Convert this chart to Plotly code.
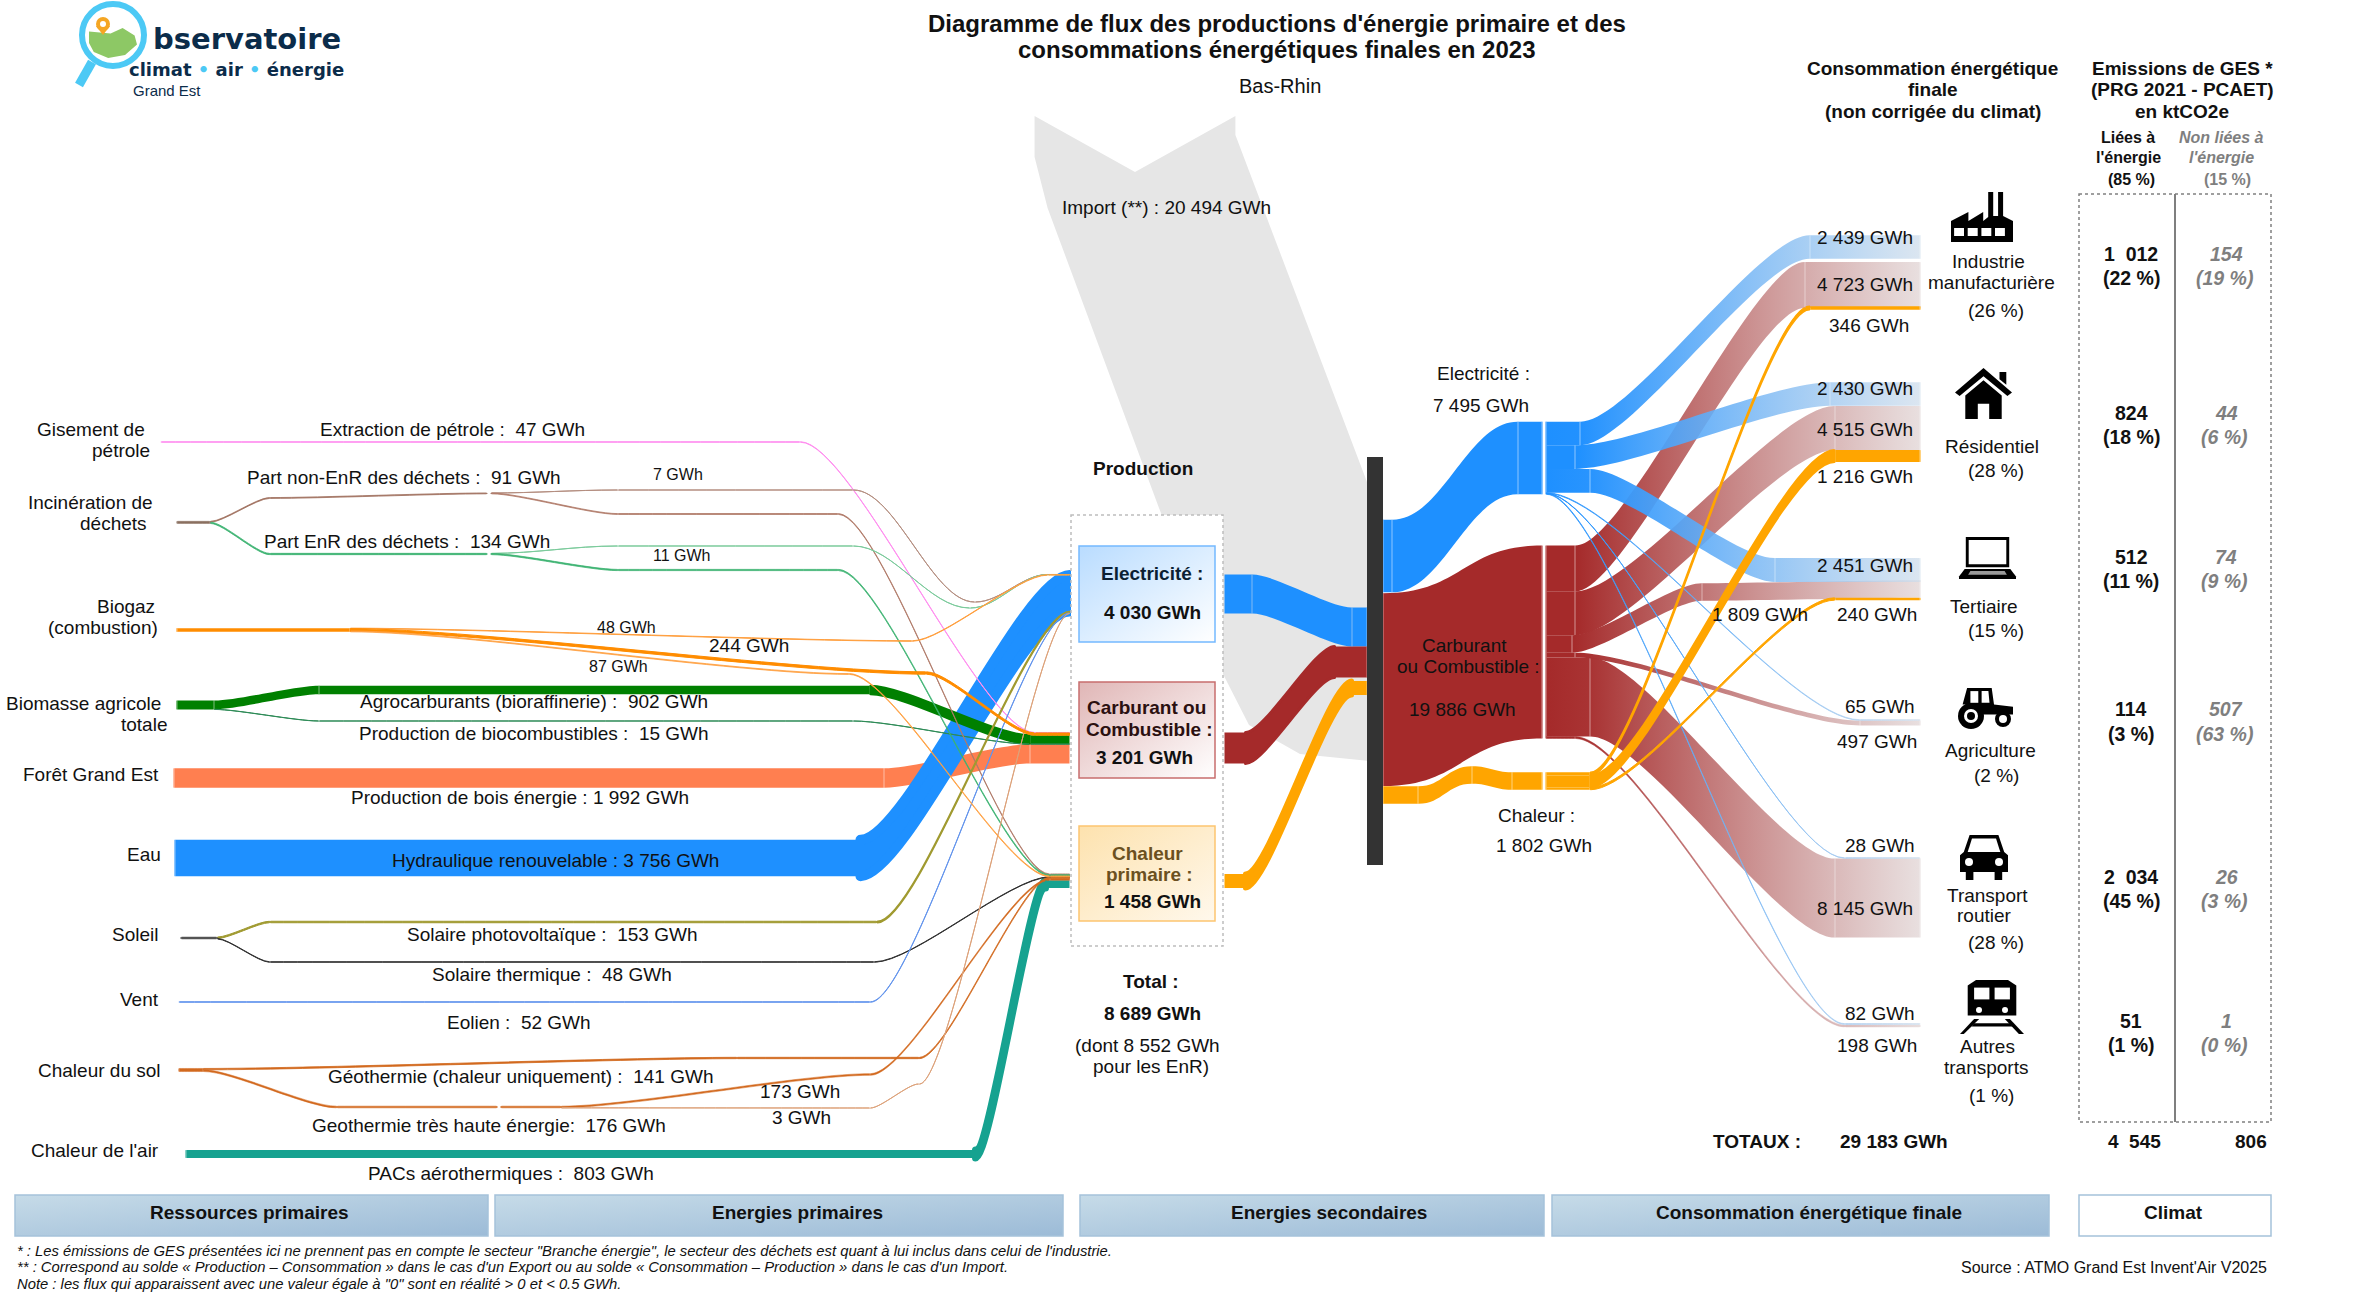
import json
import plotly.graph_objects as go

# ---------------- data (GWh) ----------------
PETROLE = 47
DECHETS_NON_ENR = 91
DECHETS_NON_ENR_SPLIT = [7, 84]      # electricite, chaleur
DECHETS_ENR = 134
DECHETS_ENR_SPLIT = [11, 123]
BIOGAZ_SPLIT = [48, 244, 87]         # elec, carburant, chaleur
AGROCARB = 902
BIOCOMB = 15
BOIS = 1992
HYDRO = 3756
PV = 153
SOL_TH = 48
EOLIEN = 52
GEOTH = 141
GEOTH_THE = 176
GEOTH_THE_SPLIT = [173, 3]
PAC = 803
PROD = [4030, 3201, 1458]
PROD_TOTAL = 8689
PROD_ENR = 8552
IMPORT = 20494
SEC = [7495, 19886, 1802]
ELEC_USES = [2439, 2430, 2451, 65, 28, 82]
CARB_USES = [4723, 4515, 1809, 497, 8145, 198]
CHAL_USES = [346, 1216, 240]
FINAL_TOTAL = 29183
SECTORS = ["Industrie", "Résidentiel", "Tertiaire", "Agriculture", "Transport routier", "Autres transports"]
SECTOR_PCT = [26, 28, 15, 2, 28, 1]
GES_ENERGIE = ["1  012", "824", "512", "114", "2  034", "51"]
GES_ENERGIE_PCT = [22, 18, 11, 3, 45, 1]
GES_AUTRE = [154, 44, 74, 507, 26, 1]
GES_AUTRE_PCT = [19, 6, 9, 63, 3, 0]
GES_TOTALS = ["4  545", "806"]

def gwh(v):
    return f"{v:,}".replace(",", " ") + " GWh"

# ---------------- scale / layout constants ----------------
W, H = 2370, 1299
S = 2370 / 1567
K = 0.0097                      # px per GWh
SRC_SUM = sum([PETROLE, DECHETS_NON_ENR, DECHETS_ENR]) + sum(BIOGAZ_SPLIT) + AGROCARB + BIOCOMB + BOIS + HYDRO + PV + SOL_TH + EOLIEN + GEOTH + GEOTH_THE + PAC + sum(SEC)
SK_H = SRC_SUM * K
SK_TOP = 481.3
FONT = "Liberation Sans"

BLUE, RED, ORANGE = "#1E90FF", "#A52A2A", "#FFA500"

FADES = {"blue": ((30, 144, 255, 1), (205, 220, 235, .72)),
         "red": ((165, 42, 42, 1), (226, 214, 214, .78))}

def fade_col(name, x):
    t = max(0, min(1, (x - 1575) / (1920 - 1575)))
    a, b = FADES[name]
    c = [a[i] + (b[i] - a[i]) * t for i in range(4)]
    return f"rgba({c[0]:.0f},{c[1]:.0f},{c[2]:.0f},{c[3]:.3f})"

# ---------------- sankey graph builder ----------------
nx, ny, ncol, ls, lt, lv, lc, lw = [], [], [], [], [], [], [], []
grads = {}
curv = {}
CURV_DEFAULT = 0.22

def node(x, y, col="rgba(0,0,0,0)"):
    nx.append(x / W)
    ny.append((y - SK_TOP) / SK_H)
    ncol.append(col)
    return len(nx) - 1

def link(a, b, v, col, width=None, fade=None):
    ls.append(a); lt.append(b); lv.append(v)
    lc.append(col)
    if width is None:
        width = 1.0 if v < 60 else (.8 if v < 150 else (.5 if v < 350 else 0))
    lw.append(width)
    if fade:
        grads[len(ls) - 1] = [fade_col(fade, nx[a] * W), fade_col(fade, nx[b] * W)]

def route(start, pts, v, col, end=None, width=None, fade=None, widths=None, c=None):
    """Chain links through way-nodes; start/end are node ids or (x, y)."""
    cur = start if isinstance(start, int) else node(*start, col if not fade else fade_col(fade, start[0]))
    for i, p in enumerate(pts):
        nxt = node(*p, col if not fade else fade_col(fade, p[0]))
        link(cur, nxt, v, col, (widths or {}).get(i, width), fade)
        if c is not None:
            curv[len(ls) - 1] = c
        cur = nxt
    if end is not None:
        link(cur, end, v, col, (widths or {}).get(len(pts), width), fade)
    return cur

def slots(center, vals):
    y = center - sum(vals) * K / 2
    out = []
    for v in vals:
        out.append(y + v * K / 2)
        y += v * K
    return out

# production nodes (left/right edges of the production box)
CY = [594, 748, 881]
PL = [node(1070, y) for y in CY]
PR = [node(1224, y) for y in CY]
for a, b, v in zip(PL, PR, PROD):
    link(a, b, v, "rgba(0,0,0,0)", 0)

TR = "rgba(0,0,0,0)"
E_IN = [DECHETS_NON_ENR_SPLIT[0], DECHETS_ENR_SPLIT[0], BIOGAZ_SPLIT[0], HYDRO, PV, EOLIEN, GEOTH_THE_SPLIT[1]]
C_IN = [PETROLE, BIOGAZ_SPLIT[1], AGROCARB, BIOCOMB, BOIS]
H_IN = [DECHETS_NON_ENR_SPLIT[1], DECHETS_ENR_SPLIT[1], BIOGAZ_SPLIT[2], SOL_TH, GEOTH, GEOTH_THE_SPLIT[0], PAC]
ES, CS, HS = slots(CY[0], E_IN), slots(CY[1], C_IN), slots(CY[2], H_IN)

# big flows first, thin ones above
route((174, 778), [(884, 778), (1030, CS[4])], BOIS, "#FF7F50", PL[1])
route((175, 858), [(860, 858)], HYDRO, BLUE, PL[0], widths={0: 0, 1: 10})
route((186, 1154), [(975, 1154), (1046, HS[6])], PAC, "#16A290", PL[2], widths={0: 0, 1: 7, 2: 0})

# biomasse
bm = node(214, 705, "#008000")
link(node(177, 705, "#008000"), bm, AGROCARB + BIOCOMB, "#008000")
route(bm, [(319, 690), (870, 690), (1030, CS[2])], AGROCARB, "#008000", PL[1], widths={0: 0, 1: 0, 2: 2, 3: 0})
route(bm, [(319, 721), (853, 721), (1030, CS[3])], BIOCOMB, "#2E8B57", PL[1])

# petrole
route((161, 442), [(800, 442), (1035, CS[0])], PETROLE, "#FF90F0", PL[1])

# dechets
inc = node(210, 522.4, "#8a7060")
link(node(177, 522.4, "#8a7060"), inc, DECHETS_NON_ENR + DECHETS_ENR, "#8a7060")
ne = route(inc, [(270, 498), (487, 493.4)], DECHETS_NON_ENR, "#A0705E")
ne2 = node(491, 493.4, "#A0705E")
link(ne, ne2, DECHETS_NON_ENR, TR, 0)
route(ne2, [(618, 490), (853, 490), (975, 602), (1048, ES[0])], DECHETS_NON_ENR_SPLIT[0], "#B48E80", PL[0], c=.35)
route(ne2, [(618, 514), (838, 514), (1050, HS[0])], DECHETS_NON_ENR_SPLIT[1], "#B07A68", PL[2])
en = route(inc, [(270, 554), (487, 554)], DECHETS_ENR, "#3CB371")
en2 = node(491, 554, "#3CB371")
link(en, en2, DECHETS_ENR, TR, 0)
route(en2, [(618, 546), (853, 546), (970, 608), (1048, ES[1])], DECHETS_ENR_SPLIT[0], "#7CCB9C", PL[0], c=.35)
route(en2, [(618, 570), (838, 570), (1050, HS[1])], DECHETS_ENR_SPLIT[1], "#3CB371", PL[2])

# solaire / vent / geothermie
so = node(217, 938, "#555")
link(node(181, 938, "#555"), so, PV + SOL_TH, "#555")
route(so, [(270, 922), (877, 922)], PV, "#A09A30", PL[0], widths={0: 1, 1: 1, 2: 1.5})
route(so, [(270, 962), (874, 962), (1050, HS[3])], SOL_TH, "#333333", PL[2])
route((179, 1002), [(870, 1002)], EOLIEN, "#6495ED", PL[0])
sol = node(203, 1070, "#D2691E")
link(node(179, 1070, "#D2691E"), sol, GEOTH + GEOTH_THE, "#D2691E")
route(sol, [(737, 1058), (919, 1058), (1050, HS[4])], GEOTH, "#D2691E", PL[2])
th = route(sol, [(337, 1107), (497, 1107)], GEOTH_THE, "#D2691E")
th2 = node(501, 1107, "#D2691E")
link(th, th2, GEOTH_THE, TR, 0)
th3 = node(561, 1107, "#D2691E")
link(th2, th3, GEOTH_THE, "#D2691E")
route(th3, [(870, 1074.5), (1050, HS[5])], GEOTH_THE_SPLIT[0], "#D2691E", PL[2])
route(th3, [(870, 1108), (919, 1084)], GEOTH_THE_SPLIT[1], "#DDA27A", PL[0])

# biogaz last (above the rest)
bg = node(350, 630, "#FF8C00")
link(node(177, 630, "#FF8C00"), bg, sum(BIOGAZ_SPLIT), "#FF8C00")
route(bg, [(912, 641), (1048, ES[2])], BIOGAZ_SPLIT[0], "#FFA040", PL[0])
route(bg, [(926, 673), (1035, CS[1])], BIOGAZ_SPLIT[1], "#FF8C00", PL[1], width=1)
route(bg, [(849, 674), (1050, HS[2])], BIOGAZ_SPLIT[2], "#FFA040", PL[2])

# production -> central bar
route(PR[0], [(1252, 594), (1352, 627), (1367, 627)], PROD[0], BLUE)
route(PR[1], [(1245, 748), (1335, 662), (1367, 662)], PROD[1], RED, widths={1: 3})
route(PR[2], [(1245, 881), (1352, 688), (1367, 688)], PROD[2], ORANGE, widths={1: 5})

# central -> split points
BAR_R = 1383
SPLIT_L, SPLIT_R = 1542, 1546
SC = [458, 642, 781]
eL = route((BAR_R, 556), [(1392, 556), (1518, SC[0]), (SPLIT_L, SC[0])], SEC[0], BLUE, c=.4)
cL = route((BAR_R, 689.6), [(SPLIT_L, SC[1])], SEC[1], RED, c=.5)
hL = route((BAR_R, 795), [(1418, 795), (1472, 775), (1512, 781), (SPLIT_L, SC[2])], SEC[2], ORANGE, c=.45)
eR, cR, hR = node(SPLIT_R, SC[0], BLUE), node(SPLIT_R, SC[1], RED), node(SPLIT_R, SC[2], ORANGE)
link(eL, eR, SEC[0], TR, 0); link(cL, cR, SEC[1], TR, 0); link(hL, hR, SEC[2], TR, 0)

END = 1920
E_SLOT, C_SLOT, H_SLOT = slots(SC[0], ELEC_USES), slots(SC[1], CARB_USES), slots(SC[2], CHAL_USES)
# red flows
route(cR, [(1575, C_SLOT[0]), (1805, 285), (END, 285)], CARB_USES[0], RED, fade="red")
route(cR, [(1575, C_SLOT[1]), (1835, 428), (END, 428)], CARB_USES[1], RED, fade="red")
route(cR, [(1572, C_SLOT[2]), (1702, 592), (END, 589)], CARB_USES[2], RED, fade="red")
route(cR, [(1575, C_SLOT[3]), (1860, 723), (END, 723)], CARB_USES[3], RED, fade="red")
route(cR, [(1590, C_SLOT[4]), (1835, 898), (END, 898)], CARB_USES[4], RED, fade="red")
route(cR, [(1575, C_SLOT[5]), (1845, 1026), (END, 1026)], CARB_USES[5], RED, fade="red")
# blue flows
route(eR, [(1580, E_SLOT[0]), (1810, 247), (END, 247)], ELEC_USES[0], BLUE, fade="blue")
route(eR, [(1575, E_SLOT[1]), (1830, 394), (END, 394)], ELEC_USES[1], BLUE, fade="blue")
route(eR, [(1590, E_SLOT[2]), (1775, 570), (END, 570)], ELEC_USES[2], BLUE, fade="blue")
route(eR, [(1860, 720), (END, 720)], ELEC_USES[3], BLUE, fade="blue")
route(eR, [(1845, 858), (END, 858)], ELEC_USES[4], BLUE, fade="blue")
route(eR, [(1845, 1024), (END, 1024)], ELEC_USES[5], BLUE, fade="blue")
# orange flows on top
route(hR, [(1590, H_SLOT[0]), (1810, 308), (END, 308)], CHAL_USES[0], ORANGE, widths={0: 0, 1: 1.5, 2: 0})
route(hR, [(1590, H_SLOT[1]), (1835, 456), (END, 456)], CHAL_USES[1], ORANGE, widths={0: 0, 1: 2, 2: 0})
route(hR, [(1590, H_SLOT[2]), (1835, 599), (END, 599)], CHAL_USES[2], ORANGE, widths={0: 0, 1: 1, 2: 0})

sankey = go.Sankey(
    arrangement="fixed",
    domain=dict(x=[0, 1], y=[1 - (SK_TOP + SK_H) / H, 1 - SK_TOP / H]),
    node=dict(x=nx, y=ny, pad=0, thickness=1, color=ncol, line=dict(width=0), label=[""] * len(nx), hoverinfo="none"),
    link=dict(source=ls, target=lt, value=lv, color=lc, line=dict(width=0), hoverinfo="none"),
)

# import band (cartesian polygon, horizontal width from the value)
imp_w = IMPORT * 0.0098
imp_c = 1135
imp_low = IMPORT * 0.0136
imp_x = [imp_c - imp_w / 2, imp_c, imp_c + imp_w / 2, imp_c + imp_w / 2, 1367, 1367, 1300, 1249, 1223, 1159, imp_c - imp_w / 2 + 13, imp_c - imp_w / 2]
imp_y = [116, 172, 116, 135, 482, 482 + imp_low, 754, 725, 674, 508, 208, 157]
imp_trace = go.Scatter(x=imp_x, y=imp_y, mode="lines", fill="toself", fillcolor="#E6E6E6",
                       line=dict(width=0, color="#E6E6E6"), hoverinfo="skip", showlegend=False)

# ---------------- decoration ----------------
shapes = []
shape_grads = {}

def rect(x0, y0, x1, y1, fill="white", line=None, lwid=1, dash="solid", grad=None):
    shapes.append(dict(type="rect", x0=x0, y0=y0, x1=x1, y1=y1, xref="x", yref="y", layer="above",
                       fillcolor=fill, line=dict(color=line or "rgba(0,0,0,0)", width=lwid if line else 0, dash=dash)))
    if grad:
        shape_grads[len(shapes) - 1] = grad

def poly(pts, box, fill="black"):
    x0, y0, x1, y1 = box
    p = "M " + " L ".join(f"{x0 + a * (x1 - x0) / 100:.1f},{y0 + b * (y1 - y0) / 100:.1f}" for a, b in pts) + " Z"
    shapes.append(dict(type="path", path=p, xref="x", yref="y", layer="above", fillcolor=fill, line=dict(width=0)))

def circ(cx, cy, r, fill="black", line=None, lwid=0):
    shapes.append(dict(type="circle", x0=cx - r, x1=cx + r, y0=cy - r, y1=cy + r, xref="x", yref="y", layer="above",
                       fillcolor=fill, line=dict(color=line or "rgba(0,0,0,0)", width=lwid)))

# production boxes
rect(1071, 515, 1223, 946, "white", "#BDBDBD", 1.5, "dot")
rect(1079, 546, 1215, 642, "#DDEEFF", "#74B9FF", 1.5, grad=["#B9DCFF", "#FFFFFF"])
rect(1079, 682, 1215, 778, "#F0DCDC", "#C76E6E", 1.5, grad=["#E0B6B6", "#FFFFFF"])
rect(1079, 826, 1215, 921, "#FFF0D8", "#FDC570", 1.5, grad=["#FDE2AE", "#FFF8EC"])
# central bar
rect(1367, 457, 1383, 865, "#333333")
# table
rect(2079, 194, 2271, 1122, "rgba(0,0,0,0)", "#808080", 1.5, "dot")
shapes.append(dict(type="line", x0=2175, x1=2175, y0=194, y1=1122, xref="x", yref="y", layer="above", line=dict(color="#7F7F7F", width=2)))
# ribbons
for a, b in [(15, 488), (495, 1063), (1080, 1544), (1552, 2049)]:
    rect(a, 1195, b, 1236, "#B0CADF", "#A5C2DA", 1.5, grad=["#C6DBE8", "#9CBBD7"])
rect(2079, 1195, 2271, 1236, "white", "#A5C2DA", 1.5)

# icons
B = (1951, 192, 2013, 242)
poly([(0, 100), (0, 58), (28, 40), (28, 58), (52, 40), (52, 58), (60, 50), (60, 0), (68, 0), (68, 48), (76, 48), (76, 0), (84, 0), (84, 48), (100, 58), (100, 100)], B)
for wx in (5, 27, 49, 71):
    poly([(wx, 72), (wx + 16, 72), (wx + 16, 88), (wx, 88)], B, "white")
B = (1955, 368, 2012, 419)
poly([(50, 0), (100, 48), (92, 55), (50, 16), (8, 55), (0, 48)], B)
poly([(78, 8), (90, 8), (90, 33), (78, 22)], B)
poly([(18, 54), (50, 24), (82, 54), (82, 100), (60, 100), (60, 70), (40, 70), (40, 100), (18, 100)], B)
B = (1959, 537, 2016, 579)
poly([(12, 0), (88, 0), (88, 72), (12, 72)], B)
poly([(17, 7), (83, 7), (83, 65), (17, 65)], B, "white")
poly([(10, 76), (90, 76), (100, 94), (100, 100), (0, 100), (0, 94)], B)
poly([(20, 81), (80, 81), (84, 90), (16, 90)], B, "#999999")
B = (1957, 688, 2013, 727)
poly([(18, 0), (62, 0), (66, 42), (100, 48), (100, 68), (15, 68), (15, 42), (10, 42)], B)
poly([(24, 8), (38, 8), (38, 38), (24, 38)], B, "white")
poly([(44, 8), (56, 8), (58, 38), (44, 38)], B, "white")
circ(1971, 716, 13); circ(1971, 716, 7, "white"); circ(1971, 716, 4)
circ(2003, 719, 8); circ(2003, 719, 4, "white")
B = (1960, 835, 2008, 880)
poly([(20, 0), (80, 0), (92, 38), (100, 45), (100, 82), (88, 82), (88, 100), (72, 100), (72, 82), (28, 82), (28, 100), (12, 100), (12, 82), (0, 82), (0, 45), (8, 38)], B)
poly([(25, 8), (75, 8), (84, 38), (16, 38)], B, "white")
circ(1969, 862, 4, "white"); circ(1999, 862, 4, "white")
B = (1960, 980, 2024, 1034)
poly([(25, 0), (75, 0), (88, 10), (88, 66), (12, 66), (12, 10)], B)
poly([(22, 14), (46, 14), (46, 36), (22, 36)], B, "white")
poly([(54, 14), (78, 14), (78, 36), (54, 36)], B, "white")
circ(1979, 1010, 3, "white"); circ(2005, 1010, 3, "white")
poly([(22, 72), (30, 72), (6, 100), (0, 100)], B)
poly([(70, 72), (78, 72), (100, 100), (92, 100)], B)
poly([(22, 80), (78, 80), (82, 86), (18, 86)], B)
# logo
shapes.append(dict(type="line", x0=92, y0=62, x1=79, y1=85, xref="x", yref="y", layer="above", line=dict(color="#4CC9F5", width=9)))
circ(113, 35, 31, "white", "#4CC9F5", 6)
poly([(0, 12), (45, 18), (70, 0), (95, 25), (100, 55), (75, 90), (40, 100), (10, 80), (0, 50)], (89, 28, 137, 58), "#8DC865")
circ(103, 24, 7, "#F5A623"); poly([(0, 0), (100, 0), (50, 100)], (96, 26, 110, 35), "#F5A623"); circ(103, 24, 3, "white")

# ---------------- texts ----------------
ann = []

def T(x, y, text, size=19, bold=False, italic=False, color="#111111", anchor="center", real=False, family=FONT):
    s = text
    if bold: s = f"<b>{s}</b>"
    if italic: s = f"<i>{s}</i>"
    px, py = (x, y) if real else (x * S, y * S)
    ann.append(dict(x=px, y=py, xref="x", yref="y", text=s, showarrow=False, xanchor=anchor, yanchor="middle",
                    font=dict(family=family, size=size, color=color), align="center"))

T(844, 15.5, "Diagramme de flux des productions d'énergie primaire et des", 24, True)
T(844, 33, "consommations énergétiques finales en 2023", 24, True)
T(846, 57, "Bas-Rhin", 20)
for y, t in zip((45, 59, 74), ("Consommation énergétique", "finale", "(non corrigée du climat)")):
    T(1278, y, t, 19, True)
for y, t in zip((45, 59, 74), ("Emissions de GES *", "(PRG 2021 - PCAET)", "en ktCO2e")):
    T(1443, y, t, 19, True)
for x, y, t in ((1407, 91, "Liées à"), (1407, 104, "l'énergie"), (1409, 119, "(85 %)")):
    T(x, y, t, 16, True)
for x, y, t in ((1469, 91, "Non liées à"), (1469, 104, "l'énergie")):
    T(x, y, t, 16, True, True, "#7F7F7F")
T(1473, 119, "(15 %)", 16, True, False, "#7F7F7F")

for x, y, t in [(60, 284, "Gisement de"), (80, 298, "pétrole"), (60, 332, "Incinération de"), (75, 346, "déchets"),
                (83, 401, "Biogaz"), (68, 415, "(combustion)"), (55, 465, "Biomasse agricole"), (95, 479, "totale"),
                (60, 512, "Forêt Grand Est"), (95, 565, "Eau"), (89, 618, "Soleil"), (92, 661, "Vent"),
                (66, 708, "Chaleur du sol"), (63, 761, "Chaleur de l'air")]:
    T(x, y, t)

for x, y, t, sz in [
    (299, 284, f"Extraction de pétrole :  {gwh(PETROLE)}", 19),
    (267, 316, f"Part non-EnR des déchets :  {gwh(DECHETS_NON_ENR)}", 19),
    (448, 314, gwh(DECHETS_NON_ENR_SPLIT[0]), 16),
    (269, 358, f"Part EnR des déchets :  {gwh(DECHETS_ENR)}", 19),
    (451, 367, gwh(DECHETS_ENR_SPLIT[0]), 16),
    (414, 415, gwh(BIOGAZ_SPLIT[0]), 16), (495, 427, gwh(BIOGAZ_SPLIT[1]), 19), (409, 441, gwh(BIOGAZ_SPLIT[2]), 16),
    (353, 464, f"Agrocarburants (bioraffinerie) :  {gwh(AGROCARB)}", 19),
    (353, 485, f"Production de biocombustibles :  {gwh(BIOCOMB)}", 19),
    (344, 527, f"Production de bois énergie : {gwh(BOIS)}", 19),
    (367, 569, f"Hydraulique renouvelable : {gwh(HYDRO)}", 19),
    (365, 618, f"Solaire photovoltaïque :  {gwh(PV)}", 19),
    (365, 644, f"Solaire thermique :  {gwh(SOL_TH)}", 19),
    (343, 676, f"Eolien :  {gwh(EOLIEN)}", 19),
    (344, 712, f"Géothermie (chaleur uniquement) :  {gwh(GEOTH)}", 19),
    (529, 722, gwh(GEOTH_THE_SPLIT[0]), 19), (530, 739, gwh(GEOTH_THE_SPLIT[1]), 19),
    (323, 744, f"Geothermie très haute énergie:  {gwh(GEOTH_THE)}", 19),
    (338, 776, f"PACs aérothermiques :  {gwh(PAC)}", 19),
]:
    T(x, y, t, sz)

T(756, 310, "Production", 19, True)
T(762, 379, "Electricité :", 19, True, color="#0B1F33")
T(762, 405, gwh(PROD[0]), 19, True)
T(758, 468, "Carburant ou", 19, True, color="#2B1010")
T(760, 482, "Combustible :", 19, True, color="#2B1010")
T(757, 501, gwh(PROD[1]), 19, True)
T(759, 564, "Chaleur", 19, True, color="#6B5020")
T(760, 578, "primaire :", 19, True, color="#6B5020")
T(762, 596, gwh(PROD[2]), 19, True)
T(761, 649, "Total :", 19, True)
T(762, 670, gwh(PROD_TOTAL), 19, True)
T(759, 691, f"(dont {gwh(PROD_ENR)}", 19)
T(761, 705, "pour les EnR)", 19)
T(771, 137, f"Import (**) : {gwh(IMPORT)}", 19)
T(981, 247, "Electricité :"); T(979, 268, gwh(SEC[0]))
T(968, 427, "Carburant"); T(971, 441, "ou Combustible :"); T(967, 469, gwh(SEC[1]))
T(1016, 539, "Chaleur :"); T(1021, 559, gwh(SEC[2]))

for x, y, v in [(1233, 157, ELEC_USES[0]), (1233, 188, CARB_USES[0]), (1236, 215, CHAL_USES[0]),
                (1233, 257, ELEC_USES[1]), (1233, 284, CARB_USES[1]), (1233, 315, CHAL_USES[1]),
                (1233, 374, ELEC_USES[2]), (1164, 406, CARB_USES[2]), (1241, 406, CHAL_USES[2]),
                (1243, 467, ELEC_USES[3]), (1241, 490, CARB_USES[3]),
                (1243, 559, ELEC_USES[4]), (1233, 601, CARB_USES[4]),
                (1243, 670, ELEC_USES[5]), (1241, 691, CARB_USES[5])]:
    T(x, y, gwh(v))

sector_lines = [[(1315, 173, "Industrie"), (1317, 187, "manufacturière")], [(1317, 295, "Résidentiel")], [(1312, 401, "Tertiaire")],
                [(1316, 496, "Agriculture")], [(1314, 592, "Transport"), (1312, 605, "routier")], [(1314, 692, "Autres"), (1313, 706, "transports")]]
pct_pos = [(1320, 205), (1320, 311), (1320, 417), (1320, 513), (1320, 623), (1317, 724)]
for lines, (px, py), p in zip(sector_lines, pct_pos, SECTOR_PCT):
    for x, y, t in lines:
        T(x, y, t)
    T(px, py, f"({p} %)")

ROWY = [(168, 184), (273, 289), (368, 384), (469, 485), (580, 596), (675, 691)]
for (y1, y2), a, ap, b, bp in zip(ROWY, GES_ENERGIE, GES_ENERGIE_PCT, GES_AUTRE, GES_AUTRE_PCT):
    T(1409, y1, a, 19.5, True); T(1409, y2, f"({ap} %)", 19.5, True)
    T(1472, y1, str(b), 19.5, True, True, "#7F7F7F"); T(1471, y2, f"({bp} %)", 19.5, True, True, "#7F7F7F")

T(1162, 755, "TOTAUX :", 19, True)
T(1252, 755, gwh(FINAL_TOTAL), 19, True)
T(1411, 755, GES_TOTALS[0], 19, True)
T(1488, 755, GES_TOTALS[1], 19, True)

for x, t in [(165, "Ressources primaires"), (527, "Energies primaires"), (879, "Energies secondaires"),
             (1196, "Consommation énergétique finale"), (1437, "Climat")]:
    T(x, 802, t, 19, True)

T(10, 827, "* : Les émissions de GES présentées ici ne prennent pas en compte le secteur \"Branche énergie\", le secteur des déchets est quant à lui inclus dans celui de l'industrie.", 14.8, italic=True, anchor="left")
T(10, 838, "** : Correspond au solde « Production – Consommation » dans le cas d'un Export ou au solde « Consommation – Production » dans le cas d'un Import.", 14.8, italic=True, anchor="left")
T(10, 849, "Note : les flux qui apparaissent avec une valeur égale à \"0\" sont en réalité > 0 et < 0.5 GWh.", 14.8, italic=True, anchor="left")
T(1398, 838, "Source : ATMO Grand Est Invent'Air V2025", 16)

# logo text
LOGO = "#0B2C4A"
T(247, 39, "bservatoire", 29, True, color=LOGO, real=True, family="DejaVu Sans")
T(236, 69, "climat <span style='color:#4CC9F5'>•</span> air <span style='color:#4CC9F5'>•</span> énergie", 18, True, color=LOGO, real=True, family="DejaVu Sans")
T(167, 90, "Grand Est", 15, color=LOGO, real=True)

fig = go.Figure(data=[imp_trace, sankey])
fig.update_layout(
    width=W, height=H, autosize=False, margin=dict(l=0, r=0, t=0, b=0, pad=0),
    paper_bgcolor="white", plot_bgcolor="white", showlegend=False,
    xaxis=dict(range=[0, W], visible=False, fixedrange=True, domain=[0, 1]),
    yaxis=dict(range=[H, 0], visible=False, fixedrange=True, domain=[0, 1]),
    shapes=shapes, annotations=ann, font=dict(family=FONT),
)

JS = """
document.body.style.margin='0';
var L=%s,LC=%s,LW=%s,SG=%s,CV=%s,CD=%s,NS='http://www.w3.org/2000/svg';
var svg=document.querySelector('.main-svg');
var defs=document.createElementNS(NS,'defs');svg.insertBefore(defs,svg.firstChild);
function stop(g,o,c){var s=document.createElementNS(NS,'stop');s.setAttribute('offset',o);s.setAttribute('stop-color',c);g.appendChild(s);}
function grad(id,c,diag){var g=document.createElementNS(NS,'linearGradient');g.setAttribute('id',id);g.setAttribute('x1','0');g.setAttribute('y1','0');g.setAttribute('x2','1');g.setAttribute('y2',diag?'1':'0');stop(g,'0',c[0]);stop(g,'1',c[1]);defs.appendChild(g);}
document.querySelectorAll('.sankey-link').forEach(function(el,i){
  var d=el.__data__,n=(d&&d.link&&d.link.pointNumber!==undefined)?d.link.pointNumber:i;
  var w=LW[n]||0;
  var p=el.getAttribute('d').match(/-?[0-9.]+(e-?[0-9]+)?/g);
  if(p&&p.length==16){var c=(CV[n]!==undefined)?CV[n]:CD,x0=+p[0],x1=+p[6],x2=x0+c*(x1-x0),x3=x1-c*(x1-x0);
    el.setAttribute('d','M'+x0+','+p[1]+'C'+x2+','+p[1]+' '+x3+','+p[5]+' '+x1+','+p[5]+'L'+x1+','+p[9]+'C'+x3+','+p[9]+' '+x2+','+p[15]+' '+x0+','+p[15]+'Z');}
  el.style.strokeWidth=w;el.style.strokeLinejoin='round';
  if(L[n]){grad('lk'+n,L[n],false);el.style.fill='url(#lk'+n+')';el.style.fillOpacity='1';el.style.stroke='url(#lk'+n+')';el.style.strokeOpacity='1';}
  else{el.style.stroke=LC[n];el.style.strokeOpacity=w?'1':'0';}
});
document.querySelectorAll('.layer-above .shapelayer path').forEach(function(el,i){
  if(SG[i]){grad('sh'+i,SG[i],true);el.style.fill='url(#sh'+i+')';el.style.fillOpacity='1';}
});
""" % (json.dumps(grads), json.dumps(lc), json.dumps(lw), json.dumps(shape_grads), json.dumps(curv), json.dumps(CURV_DEFAULT))

fig.write_html("out.html", post_script=JS, config=dict(displayModeBar=False))
